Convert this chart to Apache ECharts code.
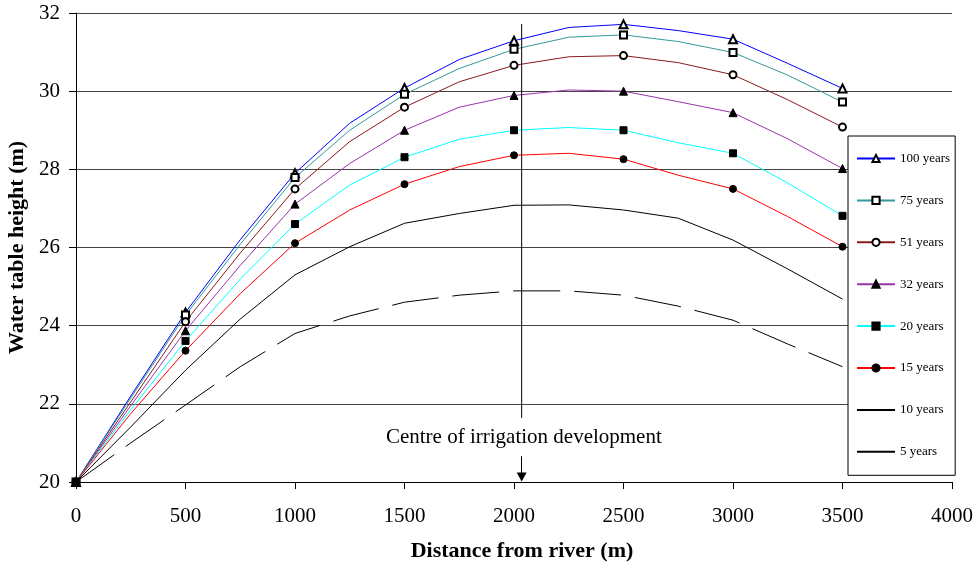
<!DOCTYPE html>
<html>
<head>
<meta charset="utf-8">
<script src="https://cdn.jsdelivr.net/npm/echarts@6/dist/echarts.min.js"></script>
<style>
  html, body { margin: 0; padding: 0; background: #fff; }
  #chart { width: 980px; height: 568px; }
</style>
</head>
<body>
<div id="chart"></div>
<script>
// distance from river (m), model output read every 250 m
const distance = [0, 250, 500, 750, 1000, 1250, 1500, 1750, 2000, 2250, 2500, 2750, 3000, 3250, 3500];

const years100 = [20, 22.2, 24.34, 26.2, 27.9, 29.18, 30.08, 30.81, 31.29, 31.63, 31.71, 31.55, 31.33, 30.71, 30.07];
const years75 = [20, 22.15, 24.27, 26.08, 27.79, 29.0, 29.92, 30.58, 31.07, 31.38, 31.44, 31.27, 30.99, 30.41, 29.72];
const years51 = [20, 22.05, 24.1, 25.86, 27.5, 28.71, 29.59, 30.24, 30.66, 30.88, 30.91, 30.73, 30.42, 29.78, 29.08];
const years32 = [20, 21.95, 23.87, 25.54, 27.11, 28.15, 29.0, 29.59, 29.89, 30.03, 30.0, 29.73, 29.45, 28.78, 28.02];
const years20 = [20, 21.85, 23.61, 25.19, 26.6, 27.6, 28.31, 28.77, 29.0, 29.07, 29.0, 28.68, 28.41, 27.65, 26.81];
const years15 = [20, 21.75, 23.36, 24.82, 26.11, 26.96, 27.62, 28.07, 28.36, 28.41, 28.26, 27.85, 27.5, 26.79, 26.02];
const years10 = [20, 21.41, 22.86, 24.17, 25.3, 26.02, 26.62, 26.87, 27.08, 27.09, 26.96, 26.75, 26.19, 25.45, 24.68];
const years5 = [20, 21.0, 21.97, 22.95, 23.8, 24.25, 24.6, 24.78, 24.89, 24.89, 24.78, 24.5, 24.14, 23.53, 22.95];

// centre of irrigation development
const centreX = 2035;
const centreLine = [31.72, 21.64];
const centreArrow = [20.66, 20.13];
const centreLabelY = 21.15;

const xTicks = [0, 500, 1000, 1500, 2000, 2500, 3000, 3500, 4000];

const curves = [
  { name: '100 years', values: years100, color: '#0000ff', symbol: 'emptyTriangle', size: 8 },
  { name: '75 years', values: years75, color: '#339999', symbol: 'emptyRect', size: 7 },
  { name: '51 years', values: years51, color: '#8b1a1a', symbol: 'emptyCircle', size: 7 },
  { name: '32 years', values: years32, color: '#9933aa', symbol: 'triangle', size: 8 },
  { name: '20 years', values: years20, color: '#00ffff', symbol: 'rect', size: 7 },
  { name: '15 years', values: years15, color: '#ff0000', symbol: 'circle', size: 7 },
  { name: '10 years', values: years10, color: '#000000', symbol: 'none', size: 0 },
  { name: '5 years', values: years5, color: '#000000', symbol: 'none', size: 0, dash: [47, 14] },
];

const serif = 'Liberation Serif';

const buildSeries = (c) => ({
  name: c.name,
  type: 'line',
  symbol: c.symbol,
  symbolSize: c.size,
  showAllSymbol: true,
  color: c.color,
  lineStyle: { color: c.color, width: 1, type: c.dash || 'solid' },
  itemStyle: {
    color: '#000',
    borderColor: '#000',
    borderWidth: 1,
    opacity: c.symbol === 'none' ? 0 : 1,
  },
  emphasis: { disabled: true },
  animation: false,
  data: distance.map((d, i) => ({
    value: [d, c.values[i]],
    symbol: d % 500 === 0 ? c.symbol : 'none',
  })),
});

const series = curves.map(buildSeries);

series.push({
  name: 'centre',
  type: 'line',
  symbol: 'none',
  silent: true,
  animation: false,
  lineStyle: { color: '#000', width: 1 },
  data: centreLine.map((y) => [centreX, y]),
  markLine: {
    silent: true,
    animation: false,
    symbol: ['none', 'triangle'],
    symbolSize: [10, 9],
    lineStyle: { color: '#000', width: 1, type: 'solid' },
    label: { show: false },
    data: [[{ coord: [centreX, centreArrow[0]] }, { coord: [centreX, centreArrow[1]] }]],
  },
  markPoint: {
    silent: true,
    animation: false,
    symbolSize: 0,
    label: {
      show: true,
      position: 'inside',
      formatter: 'Centre of irrigation development',
      color: '#000',
      fontFamily: serif,
      fontSize: 21,
    },
    data: [{ coord: [centreX + 10, centreLabelY] }],
  },
});

const chart = echarts.init(document.getElementById('chart'), null, { renderer: 'canvas' });

chart.setOption({
  backgroundColor: '#fff',
  animation: false,
  grid: { left: 76, right: 28, top: 13, bottom: 86, containLabel: false, outerBoundsMode: 'none' },
  legend: {
    data: curves.map((c) => c.name),
    orient: 'vertical',
    left: 848,
    top: 136,
    itemWidth: 38,
    itemHeight: 9,
    itemGap: 28.9,
    padding: [16, 5, 17, 8],
    backgroundColor: '#fff',
    borderColor: '#000',
    borderWidth: 1,
    borderRadius: 0,
    selectedMode: false,
    textStyle: { color: '#000', fontFamily: serif, fontSize: 13 },
    z: 10,
  },
  xAxis: {
    type: 'value',
    min: 0,
    max: 4000,
    interval: 500,
    name: 'Distance from river (m)',
    nameLocation: 'middle',
    nameGap: 58,
    nameTextStyle: { color: '#000', fontFamily: serif, fontSize: 22, fontWeight: 'bold', padding: [0, 0, 0, 16] },
    axisLine: { onZero: false, lineStyle: { color: '#000', width: 1 } },
    axisTick: { show: true, inside: false, length: 7, lineStyle: { color: '#000' } },
    axisLabel: {
      margin: 24,
      color: '#000',
      fontFamily: serif,
      fontSize: 21,
      formatter: (v) => (xTicks.includes(v) ? String(v) : ''),
    },
    splitLine: { show: false },
  },
  yAxis: {
    type: 'value',
    min: 20,
    max: 32,
    interval: 2,
    name: 'Water table height (m)',
    nameLocation: 'middle',
    nameGap: 33,
    nameTextStyle: { color: '#000', fontFamily: serif, fontSize: 22, fontWeight: 'bold' },
    axisLine: { show: true, lineStyle: { color: '#000', width: 1 } },
    axisTick: { show: true, inside: false, length: 7, lineStyle: { color: '#000' } },
    axisLabel: { margin: 16, color: '#000', fontFamily: serif, fontSize: 21 },
    splitLine: { show: true, lineStyle: { color: '#444', width: 1 } },
  },
  series: series,
});
</script>
</body>
</html>
